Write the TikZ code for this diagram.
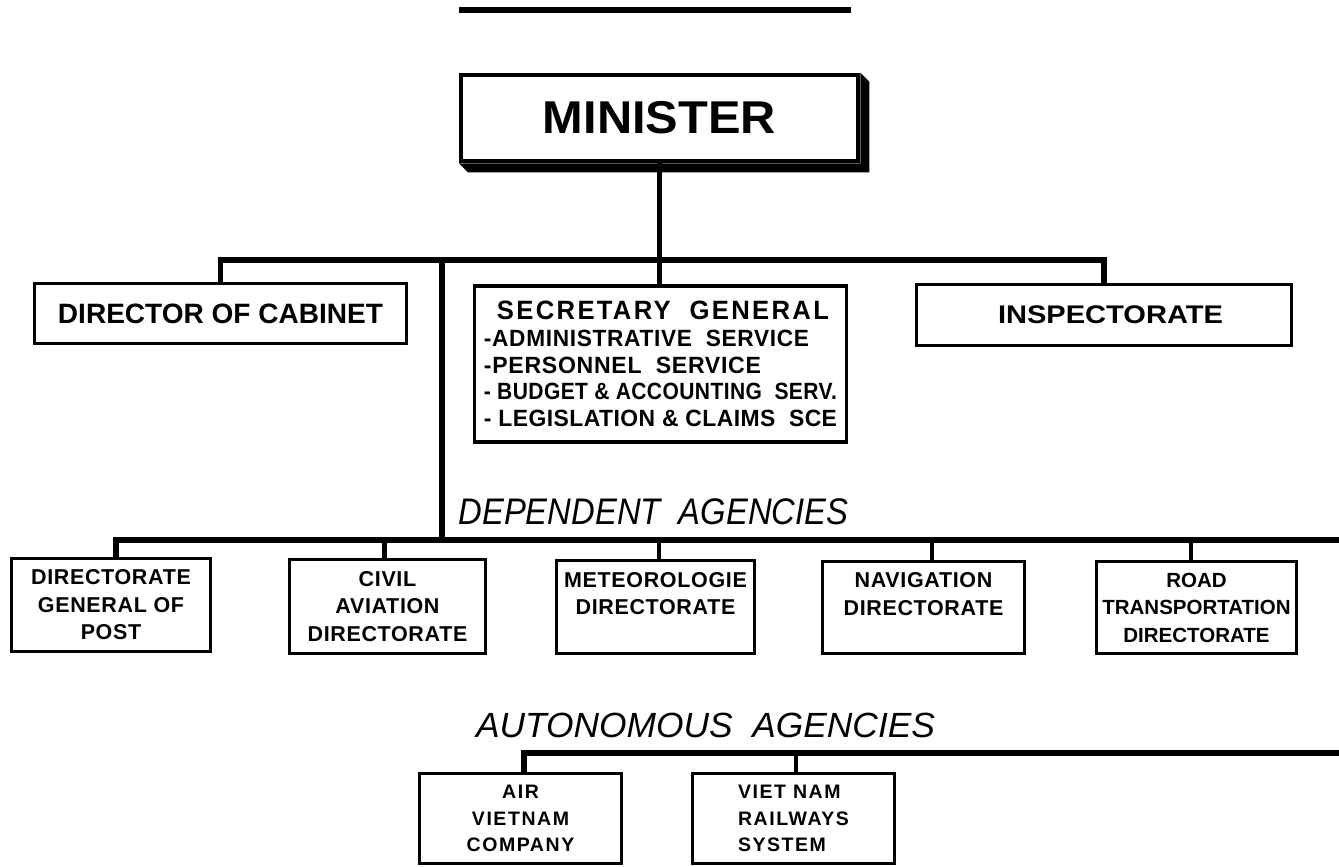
\documentclass[tikz,border=0pt]{standalone}
\usepackage{fontspec}
\usepackage{graphicx}
\newfontfamily\lab{Liberation Sans}
\newcommand\lsp[1]{\addfontfeature{LetterSpace=#1}}
\newcommand\fitw[2]{\resizebox{#1pt}{\height}{#2}}
\begin{document}
\begin{tikzpicture}[x=1pt,y=-1pt,
  box/.style={draw, line width=3.5pt, inner sep=0pt, align=center},
  bar/.style={line width=5.5pt},
  drop/.style={line width=4.5pt},
  rowtwo/.style={box, font=\lab\bfseries\fontsize{21.5}{27.5}\selectfont\lsp{3}},
  rowauto/.style={box, font=\lab\bfseries\fontsize{19.5}{26.5}\selectfont\lsp{8}},
  head/.style={inner sep=0pt, font=\lab\itshape\fontsize{36}{40}\selectfont},
]
\useasboundingbox (0,0) rectangle (1339,867);

% top rule
\coordinate (t1) at (459,10);
\coordinate (t2) at (851,10);
\draw[line width=5.5pt] (t1) -- (t2);

% minister
\node[box, line width=4.5pt, minimum width=397pt, minimum height=86pt,
      font=\lab\bfseries\fontsize{46}{50}\selectfont] (min) at (659.5,118) {\fitw{233}{MINISTER}};
\fill (min.north east) -- ++(9,9) -- ([shift={(9,9)}]min.south east)
      -- ([shift={(9,9)}]min.south west) -- (min.south west) -- (min.south east) -- cycle;

% second level
\node[box, minimum width=372pt, minimum height=60pt,
      font=\lab\bfseries\fontsize{28}{30}\selectfont] (doc) at (220.5,313.5) {\fitw{325}{DIRECTOR OF CABINET}};
\node[box, align=left, minimum width=372pt, minimum height=156pt,
      font=\lab\bfseries\fontsize{23.5}{26.8}\selectfont] (sg) at (660.5,364)
  {\hspace*{13pt}\fitw{332}{\fontsize{26.5}{27}\selectfont\lsp{9}SECRETARY\ \ GENERAL}\\
   \fitw{325}{\lsp{3}-ADMINISTRATIVE\ \ SERVICE}\\
   \fitw{277}{\lsp{3}-PERSONNEL\ \ SERVICE}\\
   \fitw{353}{\lsp{2}- BUDGET \& ACCOUNTING\ \ SERV.}\\
   \fitw{353}{\lsp{2}- LEGISLATION \& CLAIMS\ \ SCE}};
\node[box, minimum width=375pt, minimum height=61pt,
      font=\lab\bfseries\fontsize{25.5}{28}\selectfont] (insp) at (1104,315) {\hspace*{13pt}\fitw{225}{INSPECTORATE}};

\draw[bar] (min.south) -- (min.south |- sg.north);
\draw[bar] (doc.north) -- ++(0,-22) -| (insp.north);

% dependent agencies
\coordinate (v1) at (442,260);
\coordinate (v2) at (442,540);
\draw[bar] (v1) -- (v2);
\node[head, font=\lab\itshape\fontsize{37}{40}\selectfont] (dep) at (653.5,511.5) {\fitw{390}{DEPENDENT\ \ AGENCIES}};

\node[rowtwo, minimum width=199pt, minimum height=93pt] (dgp) at (111,605) {DIRECTORATE\\GENERAL OF\\POST};
\node[rowtwo, minimum width=196pt, minimum height=94pt] (civ) at (387.5,606.5) {CIVIL\\AVIATION\\DIRECTORATE};
\node[rowtwo, minimum width=198pt, minimum height=93pt] (met) at (655.5,607) {METEOROLOGIE\\DIRECTORATE\\\mbox{}};
\node[rowtwo, minimum width=202pt, minimum height=92pt] (nav) at (923.5,607.5) {NAVIGATION\\DIRECTORATE\\\mbox{}};
\node[rowtwo, minimum width=200pt, minimum height=92pt,
      font=\lab\bfseries\fontsize{20.5}{27.5}\selectfont] (road) at (1196.5,607.5) {ROAD\\TRANSPORTATION\\DIRECTORATE};

\coordinate (depR) at (1339,540);
\draw[bar] ([xshift=5pt]dgp.north) |- (depR);
\draw[drop] ([xshift=-3pt]civ.north) -- ([xshift=-3pt]civ.north |- depR);
\draw[drop] ([xshift=3.5pt]met.north) -- ([xshift=3.5pt]met.north |- depR);
\draw[drop] ([xshift=8.5pt]nav.north) -- ([xshift=8.5pt]nav.north |- depR);
\draw[drop] ([xshift=-5.5pt]road.north) -- ([xshift=-5.5pt]road.north |- depR);

% autonomous agencies
\node[head, font=\lab\itshape\fontsize{35}{40}\selectfont] (aut) at (705.5,725.5) {\fitw{459}{AUTONOMOUS\ \ AGENCIES}};
\node[rowauto, minimum width=202pt, minimum height=90pt] (air) at (520.5,818.5) {AIR\\VIETNAM\\COMPANY};
\node[rowauto, align=left, minimum width=202pt, minimum height=90pt] (rail) at (793.5,818.5) {VIET NAM\\RAILWAYS\hspace*{20pt}\\SYSTEM};

\coordinate (autR) at (1339,753);
\draw[bar] ([xshift=3.5pt]air.north) |- (autR);
\draw[drop] ([xshift=2.5pt]rail.north) -- ([xshift=2.5pt]rail.north |- autR);
\end{tikzpicture}
\end{document}
